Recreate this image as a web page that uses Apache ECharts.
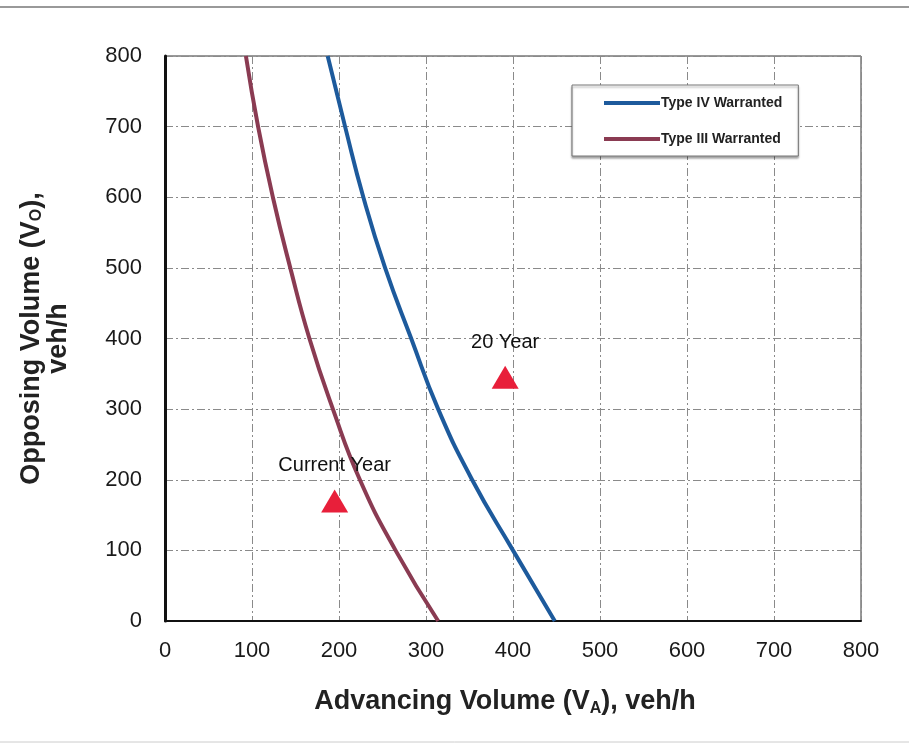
<!DOCTYPE html>
<html>
<head>
<meta charset="utf-8">
<script src="https://cdn.jsdelivr.net/npm/echarts@6/dist/echarts.min.js"></script>
<style>
  html, body { margin: 0; padding: 0; background: #fff; }
  #main { width: 909px; height: 744px; }
</style>
</head>
<body>
<div id="main"></div>
<script>
// warrant curves, [advancing, opposing] in veh/h
var typeIV = [[448, 0], [400, 100], [353, 200], [314, 300], [283, 400], [253, 500], [228, 600], [207, 700], [187, 800]];
var typeIII = [[314, 0], [265, 100], [224, 200], [193, 300], [166, 400], [144, 500], [124, 600], [107, 700], [93, 800]];
// study volumes
var currentYear = [[195, 170]];
var twentyYear = [[391, 345]];
var axisTicks = [0, 100, 200, 300, 400, 500, 600, 700, 800];

var chart = echarts.init(document.getElementById('main'));
var font = 'Liberation Sans, Arial, sans-serif';
var gridLine = { show: true, lineStyle: { color: '#8a8a8a', width: 1, type: [8, 3, 2, 3] } };

chart.setOption({
  backgroundColor: '#fff',
  animation: false,
  grid: {
    left: 165, right: 48, top: 56, bottom: 123,
    outerBoundsMode: 'none', containLabel: false,
    show: true, borderColor: '#333', borderWidth: 1
  },
  legend: {
    orient: 'vertical',
    left: 572,
    top: 85,
    padding: [11, 16, 10, 32],
    itemGap: 22,
    itemWidth: 56,
    itemHeight: 4,
    icon: 'rect',
    backgroundColor: '#fff',
    borderColor: '#777',
    borderWidth: 1,
    shadowColor: 'rgba(0,0,0,0.35)',
    shadowOffsetY: 2,
    shadowBlur: 2,
    textStyle: { fontFamily: font, fontSize: 14, fontWeight: 'bold', color: '#222', padding: [0, 0, 0, -4] },
    data: ['Type IV Warranted', 'Type III Warranted']
  },
  xAxis: {
    type: 'value',
    min: axisTicks[0],
    max: axisTicks[axisTicks.length - 1],
    interval: 100,
    axisLine: { show: true, lineStyle: { color: '#111', width: 2 } },
    axisTick: { show: false },
    axisLabel: { fontFamily: font, fontSize: 22, color: '#1a1a1a', margin: 19 },
    splitLine: gridLine,
    name: '{t|Advancing Volume (V}{s|A}{t|), veh/h}',
    nameLocation: 'middle',
    nameGap: 66,
    nameTextStyle: {
      padding: [0, 16, 0, 0],
      rich: {
        t: { fontFamily: font, fontSize: 27, fontWeight: 'bold', color: '#222' },
        s: { fontFamily: font, fontSize: 16, fontWeight: 'bold', color: '#222', verticalAlign: 'bottom', padding: [14, 0, 0, 0] }
      }
    }
  },
  yAxis: {
    type: 'value',
    min: axisTicks[0],
    max: axisTicks[axisTicks.length - 1],
    interval: 100,
    axisLine: { show: true, lineStyle: { color: '#111', width: 3 } },
    axisTick: { show: false },
    axisLabel: { fontFamily: font, fontSize: 22, color: '#1a1a1a', margin: 23 },
    splitLine: gridLine,
    name: '{t|Opposing Volume (V}{s|O}{t|),}\n{t|veh/h}',
    nameLocation: 'middle',
    nameGap: 93,
    nameTextStyle: {
      align: 'center',
      lineHeight: 27,
      rich: {
        t: { fontFamily: font, fontSize: 27, fontWeight: 'bold', color: '#222', lineHeight: 27 },
        s: { fontFamily: font, fontSize: 16, fontWeight: 'bold', color: '#222', verticalAlign: 'bottom', lineHeight: 27, padding: [12, 0, 0, 0] }
      }
    }
  },
  series: [
    {
      name: 'Type IV Warranted',
      type: 'line',
      data: typeIV,
      smooth: true,
      symbol: 'none',
      color: '#1d5a9c',
      lineStyle: { width: 4, color: '#1d5a9c' },
      z: 3
    },
    {
      name: 'Type III Warranted',
      type: 'line',
      data: typeIII,
      smooth: true,
      symbol: 'none',
      color: '#8a3b52',
      lineStyle: { width: 4, color: '#8a3b52' },
      z: 3
    },
    {
      name: 'Current Year',
      type: 'scatter',
      data: currentYear,
      symbol: 'triangle',
      symbolSize: [27, 23],
      itemStyle: { color: '#e81f3a', opacity: 1 },
      label: {
        show: true, position: 'top', distance: 14, formatter: 'Current Year',
        fontFamily: font, fontSize: 20, color: '#111', textBorderWidth: 0, opacity: 1
      },
      z: 4
    },
    {
      name: '20 Year',
      type: 'scatter',
      data: twentyYear,
      symbol: 'triangle',
      symbolSize: [27, 23],
      itemStyle: { color: '#e81f3a', opacity: 1 },
      label: {
        show: true, position: 'top', distance: 13, formatter: '20 Year',
        fontFamily: font, fontSize: 20, color: '#111', textBorderWidth: 0, opacity: 1
      },
      z: 4
    }
  ],
  graphic: [
    { type: 'line', shape: { x1: 0, y1: 7, x2: 909, y2: 7 }, style: { stroke: '#999', lineWidth: 2 } },
    { type: 'line', shape: { x1: 0, y1: 742, x2: 909, y2: 742 }, style: { stroke: '#ccc', lineWidth: 1 } }
  ]
});
</script>
</body>
</html>
